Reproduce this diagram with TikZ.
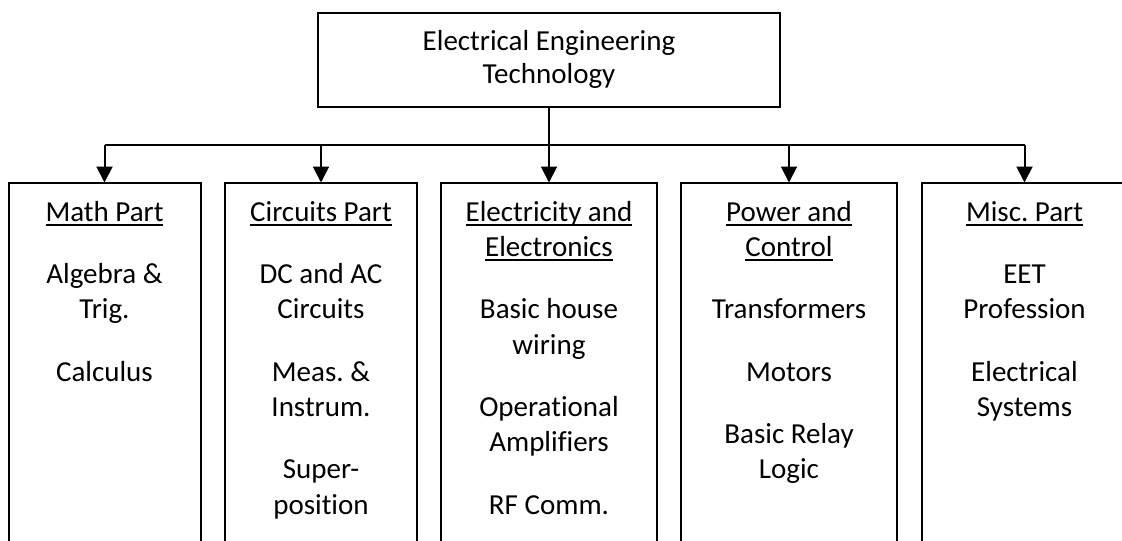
\documentclass[tikz,border=0pt]{standalone}
\usepackage{fontspec}
\setmainfont{Carlito}[Ligatures={NoCommon,NoRare,NoDiscretionary}]
\usetikzlibrary{arrows.meta}
\newlength\px \setlength\px{0.75pt}
\newcommand\ulx[1]{\leavevmode\setbox0\hbox{#1}\rlap{\rule[-4.5\px]{\wd0}{1.8\px}}\box0}
\newcommand\gapx{\\[27\px]}
\newcommand\boxtext[2]{\parbox[t]{#1}{\centering\fontsize{21.75pt}{26.5pt}\selectfont #2}}
\tikzset{
  frame/.style={draw=black, line width=1.5pt, rectangle, inner sep=0pt, outer sep=0pt},
  catbox/.style={frame, anchor=north, minimum height=420\px},
  txt/.style={inner sep=0pt, outer sep=0pt, anchor=base},
  conn/.style={draw=black, line width=1.5pt},
  arr/.style={conn, -{Triangle[length=12pt, width=12pt]}}
}
\begin{document}
\begin{tikzpicture}[x=0.75pt, y=-0.75pt]
\useasboundingbox (0,0) rectangle (1122,540);
\clip (0,0) rectangle (1122,540);
% top box
\node[frame, minimum width=462\px, minimum height=94\px] (top) at (549,60) {};
\node[txt] (ttop) at (549,50) {\boxtext{440\px}{Electrical Engineering\\[-1.5\px]Technology}};
% category boxes
\node[catbox, minimum width=192\px] (b1) at (104.5,182.5) {};
\node[catbox, minimum width=192\px] (b2) at (321,182.5) {};
\node[catbox, minimum width=216\px] (b3) at (549,182.5) {};
\node[catbox, minimum width=216\px] (b4) at (789,182.5) {};
\node[catbox, minimum width=206\px] (b5) at (1024.5,182.5) {};
% texts
\node[txt] (t1) at (104.5,221) {\boxtext{185\px}{\ulx{Math Part}\gapx Algebra \&\\Trig.\gapx Calculus}};
\node[txt] (t2) at (321,221) {\boxtext{185\px}{\ulx{Circuits Part}\gapx DC and AC\\Circuits\gapx Meas.\ \&\\Instrum.\gapx Super-\\position}};
\node[txt] (t3) at (549,221) {\boxtext{205\px}{\ulx{Electricity and}\\\ulx{Electronics}\gapx Basic house\\wiring\gapx Operational\\Amplifiers\gapx RF Comm.}};
\node[txt] (t4) at (789,221) {\boxtext{205\px}{\ulx{Power and}\\\ulx{Control}\gapx Transformers\gapx Motors\gapx Basic Relay\\Logic}};
\node[txt] (t5) at (1024.5,221) {\boxtext{195\px}{\ulx{Misc.\ Part}\gapx EET\\Profession\gapx Electrical\\Systems}};
% connectors
\coordinate (bus) at (549,145);
\draw[conn] (top.south) -- (bus);
\draw[conn] (b1.north |- bus) -- (b5.north |- bus);
\foreach \b in {b1,b2,b3,b4,b5}
  \draw[arr] (\b.north |- bus) -- (\b.north);
\end{tikzpicture}
\end{document}
